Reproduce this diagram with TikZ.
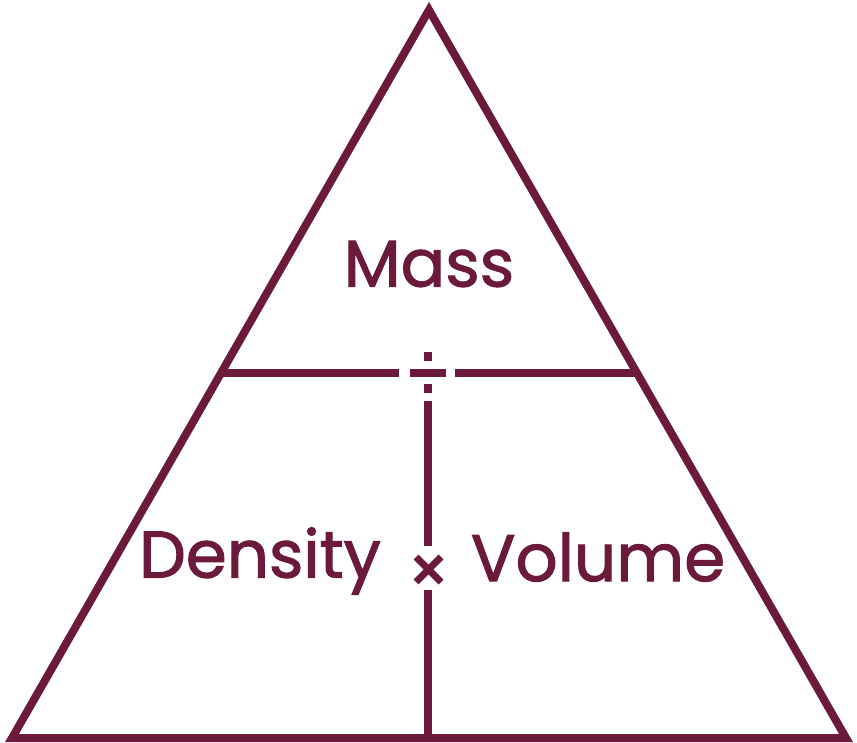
\documentclass[tikz,border=0pt]{standalone}
\usepackage{fontspec}
\setmainfont{Poppins}
\newfontfamily\labfont[FakeBold=1.6]{Poppins}
\definecolor{wine}{HTML}{6B1A3C}
\begin{document}
\begin{tikzpicture}[x=1pt,y=-1pt,line width=8pt,
  ln/.style={draw=wine},
  lab/.style={text=wine,font=\labfont\fontsize{66}{66}\selectfont,inner sep=0pt}]
\useasboundingbox (0,0) rectangle (857,743);
\coordinate (A) at (429,10);
\coordinate (B) at (12,738);
\coordinate (C) at (846,738);
\draw[ln,line join=miter] (A) -- (B) -- (C) -- cycle;
\coordinate (hl) at (220,373); \coordinate (hl2) at (399,373);
\coordinate (hr) at (455,373); \coordinate (hr2) at (635,373);
\draw[ln] (hl) -- (hl2); \draw[ln] (hr) -- (hr2);
\coordinate (d1) at (410,373); \coordinate (d2) at (446,373);
\draw[ln] (d1) -- (d2);
\fill[wine] (424,352) rectangle (432,361);
\fill[wine] (424,384) rectangle (432,393);
\coordinate (v1) at (428,401); \coordinate (v2) at (428,546);
\coordinate (v3) at (428,590); \coordinate (v4) at (428,738);
\draw[ln] (v1) -- (v2); \draw[ln] (v3) -- (v4);
\draw[ln,line width=7pt] (416,557) -- (441,582) (441,557) -- (416,582);
\node[lab] (m) at (429,264) {Mass};
\node[lab] (d) at (260,561) {Density};
\node[lab] (v) at (598,557) {Volume};
\end{tikzpicture}
\end{document}
